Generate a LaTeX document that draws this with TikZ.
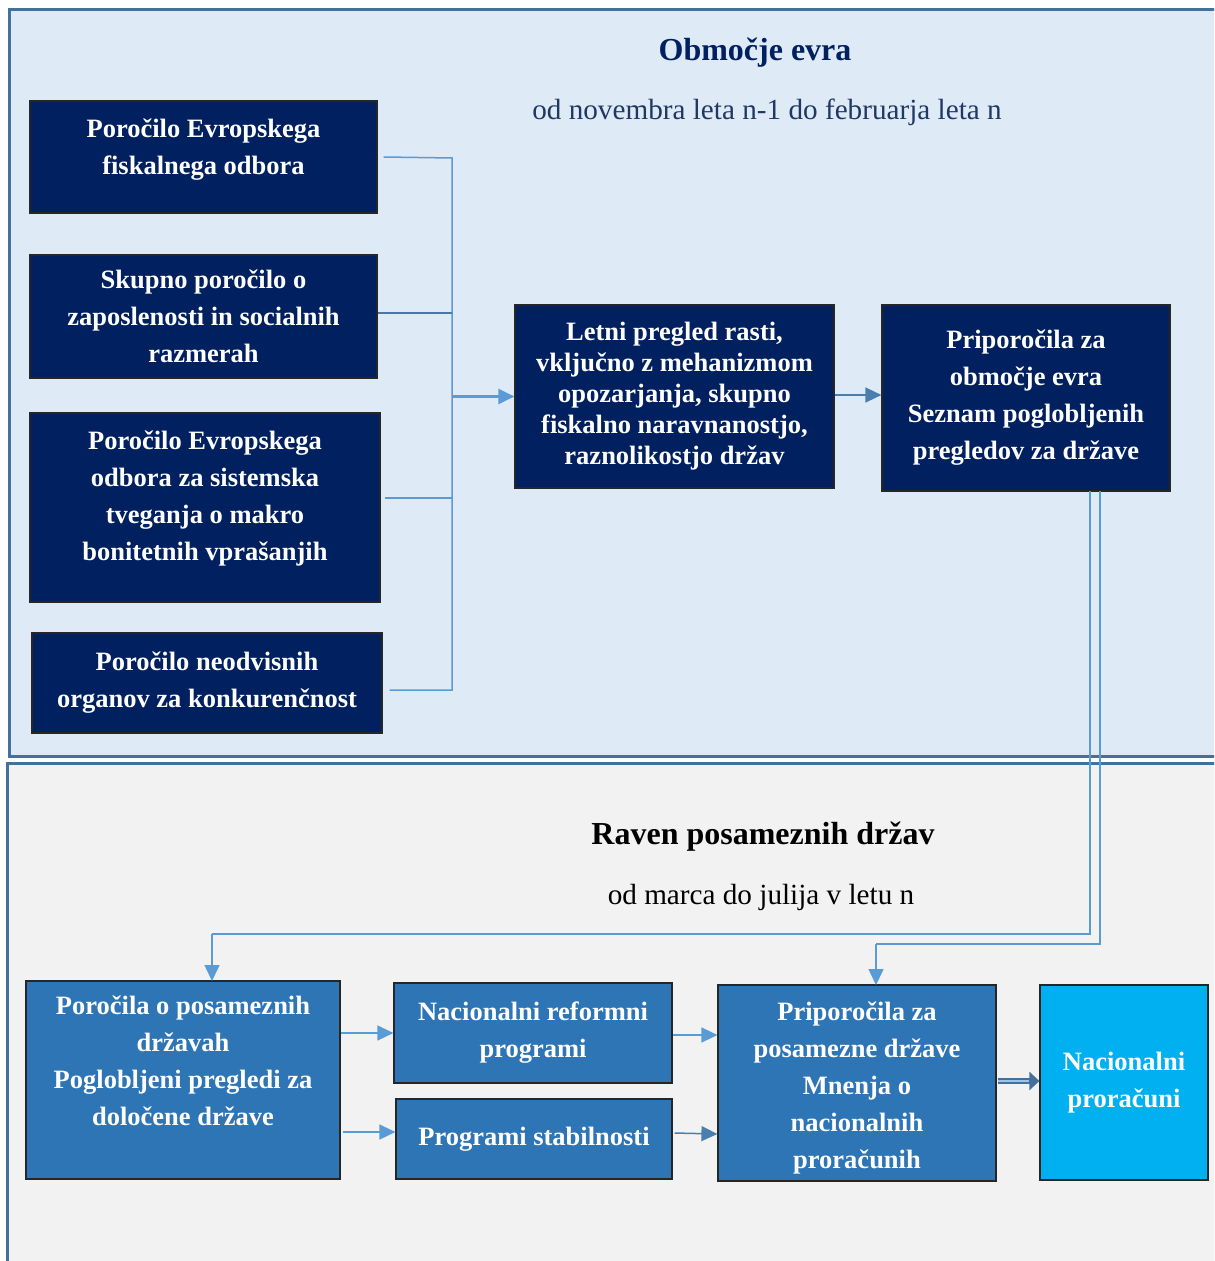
\documentclass[tikz,border=0pt]{standalone}
\usepackage{fontspec}
\setmainfont{Liberation Serif}
\usetikzlibrary{arrows.meta}
\definecolor{navy}{HTML}{002060}
\definecolor{midblue}{HTML}{2E75B6}
\definecolor{cyanbox}{HTML}{00B0F0}
\definecolor{topfill}{HTML}{DEEAF6}
\definecolor{botfill}{HTML}{F2F2F2}
\definecolor{framec}{HTML}{41719C}
\definecolor{connc}{HTML}{5B9BD5}
\definecolor{subt}{HTML}{1F3864}
\definecolor{dblout}{HTML}{41719C}
\definecolor{dblin}{HTML}{9DC3E6}
\newcommand\bx[7]{\node[#6, minimum width={(#4-#2)*0.5pt}, minimum height={(#5-#3)*0.5pt}] (#1) at ({(#2+#4)/2},{(#3+#5)/2}) {#7};}
\newcommand\dn[1]{\rule[-#1]{0pt}{0pt}}
\begin{document}
\begin{tikzpicture}[x=0.5pt,y=-0.5pt,
  box/.style={draw=black!85, line width=0.6pt, text=white, font=\fontsize{13.25}{18.5}\selectfont\bfseries, align=center, inner sep=1pt},
  navybox/.style={box, fill=navy},
  bluebox/.style={box, fill=midblue},
  cyanbx/.style={box, fill=cyanbox},
  connline/.style={draw=connc, line width=0.75pt},
  arr/.style={connline, -{Triangle[length=8pt,width=7.5pt]}},
  titletext/.style={font=\fontsize{16}{19}\selectfont\bfseries},
  subtext/.style={font=\fontsize{14.6}{18}\selectfont},
]
\clip (0,0) rectangle (1214,1261);
% panels
\filldraw[fill=topfill, draw=framec, line width=1.5pt] (9,10) rectangle (1240,756);
\filldraw[fill=botfill, draw=framec, line width=1.5pt] (7,763) rectangle (1240,1290);
% titles
\node[titletext, text=navy] (t1) at (755,53) {Območje evra};
\node[subtext, text=subt] (s1) at (767,112) {od novembra leta n-1 do februarja leta n};
\node[titletext, text=black] (t2) at (763,837) {Raven posameznih držav};
\node[subtext, text=black] (s2) at (761,897) {od marca do julija v letu n};
% top boxes
\bx{A1}{30}{101}{377}{213}{navybox}{Poročilo Evropskega\\fiskalnega odbora\dn{10pt}}
\bx{A2}{30}{255}{377}{378}{navybox}{Skupno poročilo o\\zaposlenosti in socialnih\\razmerah}
\bx{A3}{30}{413}{380}{602}{navybox}{Poročilo Evropskega\\odbora za sistemska\\tveganja o makro\\bonitetnih vprašanjih\dn{12pt}}
\bx{A4}{32}{633}{382}{733}{navybox}{Poročilo neodvisnih\\organov za konkurenčnost}
\bx{C}{515}{305}{834}{488}{navybox, font=\fontsize{13.25}{15.5}\selectfont\bfseries}{Letni pregled rasti,\\vključno z mehanizmom\\opozarjanja, skupno\\fiskalno naravnanostjo,\\raznolikostjo držav}
\bx{R}{882}{305}{1170}{491}{navybox}{Priporočila za\\območje evra\\Seznam poglobljenih\\pregledov za države}
% bottom boxes
\bx{B1}{26}{981}{340}{1179}{bluebox}{Poročila o posameznih\\državah\\Poglobljeni pregledi za\\določene države\dn{19pt}}
\bx{B2}{394}{983}{672}{1083}{bluebox}{Nacionalni reformni\\programi}
\bx{B2b}{396}{1099}{672}{1179}{bluebox}{Programi stabilnosti}
\bx{B3}{718}{985}{996}{1181}{bluebox}{\rule{0pt}{14pt}Priporočila za\\posamezne države\\Mnenja o\\nacionalnih\\proračunih}
\bx{B4}{1040}{985}{1208}{1180}{cyanbx}{Nacionalni\\proračuni}
% top connectors
\coordinate (jt) at (452,158);
\coordinate (jb) at (452,690);
\coordinate (jm) at (452,396.5);
\draw[connline] ([xshift=3pt]A1.east) -- (jt) -- (jb) -- ([xshift=3.5pt]A4.east |- jb);
\draw[connline, draw=framec!80!connc] (A2.east |- 0,313) -- (452,313);
\draw[connline] ([xshift=2pt]A3.east |- 0,498) -- (452,498);
\draw[connline, line width=1.3pt, -{Triangle[length=8pt,width=7.5pt]}] (jm) -- (C.west);
\draw[arr, draw=framec!70!connc] (C.east |- 0,395) -- (R.west |- 0,395);
% from R down
\coordinate (r1) at (1090,491);
\coordinate (r1b) at (1090,934);
\coordinate (r2) at (1100,491);
\coordinate (r2b) at (1100,944);
\coordinate (b1t) at (212,934);
\coordinate (b3t) at (876,944);
\draw[connline] (r1) -- (r1b) -- (b1t);
\draw[arr] (b1t) -- (212,981);
\draw[connline] (r2) -- (r2b) -- (b3t);
\draw[arr] (b3t) -- (876,985);
% bottom arrows
\draw[arr] (B1.east |- 0,1033) -- (B2.west |- 0,1033);
\draw[arr] ([xshift=1pt]B1.east |- 0,1132) -- (B2b.west |- 0,1132);
\draw[arr] (B2.east |- 0,1035) -- (B3.west |- 0,1035);
\draw[arr, draw=framec!70!connc] ([xshift=1pt]B2b.east |- 0,1133) -- (B3.west |- 0,1134);
% double arrow
\draw[dblout, line width=3pt, -{Triangle[length=5pt,width=9pt]}] ([xshift=0.5pt]B3.east |- 0,1081) -- (B4.west |- 0,1081);
\draw[dblin, line width=1pt] ([xshift=0.5pt]B3.east |- 0,1081) -- ([xshift=-5pt]B4.west |- 0,1081);
\end{tikzpicture}
\end{document}
